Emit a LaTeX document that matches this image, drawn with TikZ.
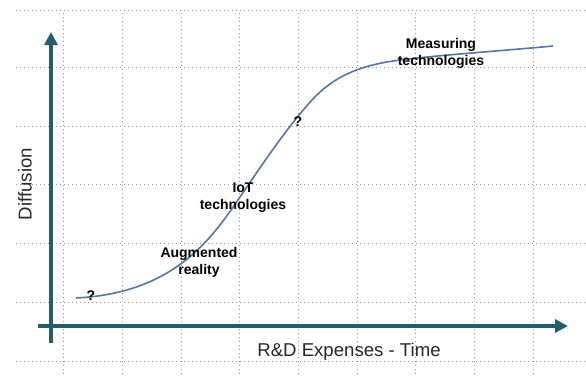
\documentclass[tikz,border=0pt]{standalone}
\usepackage{fontspec}
\setmainfont{Liberation Sans}
\usetikzlibrary{arrows.meta}
\definecolor{axiscol}{RGB}{38,93,108}
\definecolor{curvecol}{RGB}{84,118,162}
\definecolor{gridcol}{RGB}{150,150,150}
\tikzset{
  gridline/.style={gridcol, line width=0.8pt, dash pattern=on 1pt off 3pt},
  axisline/.style={axiscol, line width=4pt, -{Triangle[length=13pt,width=13pt]}},
  lbl/.style={font=\fontsize{14}{17}\selectfont\bfseries, align=center, inner sep=0pt, text=black},
  axlbl/.style={font=\fontsize{18.6}{21}\selectfont, inner sep=0pt, text=black!85},
  curveline/.style={curvecol, line width=1.6pt}
}
\begin{document}
\begin{tikzpicture}[x=1pt,y=-1pt]
\useasboundingbox (0,0) rectangle (586,375);
% grid
\foreach \yy in {10,67,126,184,243,302,361}
  \draw[gridline] (16,\yy) -- (586,\yy);
\foreach \xx in {63,122,181,239,298,357,415,474,533}
  \draw[gridline] (\xx,13) -- (\xx,375);
% axes
\coordinate (ybot) at (51,343);
\coordinate (ytop) at (51,32);
\coordinate (xleft) at (38,326);
\coordinate (xright) at (568,326);
\draw[axisline] (ybot) -- (ytop);
\draw[axisline] (xleft) -- (xright);
% curve
\coordinate (c0) at (76,298);
\coordinate (c1) at (240,197);
\coordinate (c2) at (312,100);
\coordinate (c3) at (400,60);
\coordinate (c4) at (553,46);
\draw[curveline] (c0) .. controls (175,293) and (212,238) .. (c1)
  .. controls (265,160.5) and (287,127.5) .. (c2)
  .. controls (334,76) and (360,65.2) .. (c3)
  .. controls (440,55) and (500,51) .. (c4);
% labels
\node[lbl] (q1) at (91,296) {?};
\node[lbl] (ar) at (199,262) {Augmented\\reality};
\node[lbl] (iot) at (243,198) {IoT\\technologies};
\node[lbl] (q2) at (298,122) {?};
\node[lbl] (meas) at (441,53) {Measuring\\technologies};
\node[axlbl, rotate=90] (diff) at (25,184) {Diffusion};
\node[axlbl] (rd) at (349,352) {R\&D Expenses - Time};
\end{tikzpicture}
\end{document}
